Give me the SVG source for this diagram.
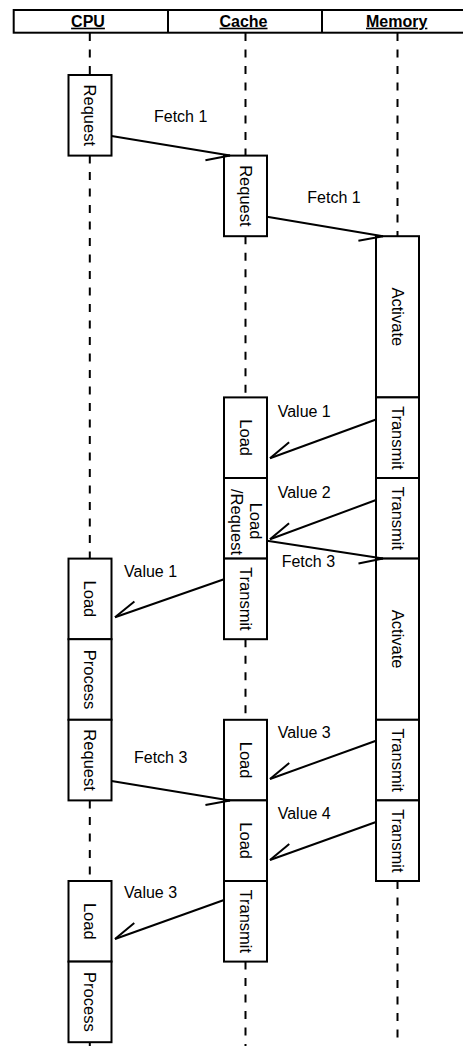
<svg xmlns="http://www.w3.org/2000/svg" width="463" height="1046" viewBox="0 0 463 1046">
<style>
.hdr{fill:#fff;stroke:#000;stroke-width:2}
.ht{font-family:"Liberation Sans",Arial,sans-serif;font-weight:bold;font-size:16px;text-anchor:middle;text-decoration:underline}
.life{stroke:#000;stroke-width:2;stroke-dasharray:8 8.5;fill:none}
.box{fill:#fff;stroke:#000;stroke-width:2}
.bt{font-family:"Liberation Sans",Arial,sans-serif;font-size:16.5px;text-anchor:middle}
.msg{stroke:#000;stroke-width:2;fill:none;marker-end:url(#half)}
.lbl{font-family:"Liberation Sans",Arial,sans-serif;font-size:16px}
</style>
<defs>
<marker id="half" markerUnits="userSpaceOnUse" refX="0" refY="0" markerWidth="30" markerHeight="30" orient="auto" overflow="visible">
<path d="M-23.5 8.5 L0 0" fill="none" stroke="#000" stroke-width="2"/>
</marker>
</defs>
<g id="header">
<rect class="hdr" x="13.7" y="10" width="462.3" height="22.7"/>
<line x1="168" y1="10" x2="168" y2="32.7" stroke="#000" stroke-width="2"/>
<line x1="322" y1="10" x2="322" y2="32.7" stroke="#000" stroke-width="2"/>
<text class="ht" x="88" y="26.7">CPU</text>
<text class="ht" x="243.5" y="26.7">Cache</text>
<text class="ht" x="396.7" y="26.7">Memory</text>
</g>
<g id="lifelines">
<path class="life" d="M89.8 33 V75 M89.8 155.6 V558.6 M89.8 800.4 V881 M89.8 1042.2 V1046"/>
<path class="life" d="M245.5 33 V155.6 M245.5 236.2 V397.4 M245.5 639.2 V719.8 M245.5 961.6 V1046"/>
<path class="life" d="M397.5 33 V236.2 M397.5 881 V1046"/>
</g>
<g id="cpu">
<g id="cpu-request1"><rect class="box" x="68.5" y="75" width="43" height="80.6"/><text class="bt" transform="translate(84,115.3) rotate(90)">Request</text></g>
<g id="cpu-load1"><rect class="box" x="68.5" y="558.6" width="43" height="80.6"/><text class="bt" transform="translate(84,598.9) rotate(90)">Load</text></g>
<g id="cpu-process1"><rect class="box" x="68.5" y="639.2" width="43" height="80.6"/><text class="bt" transform="translate(84,679.5) rotate(90)">Process</text></g>
<g id="cpu-request2"><rect class="box" x="68.5" y="719.8" width="43" height="80.6"/><text class="bt" transform="translate(84,760.1) rotate(90)">Request</text></g>
<g id="cpu-load2"><rect class="box" x="68.5" y="881" width="43" height="80.6"/><text class="bt" transform="translate(84,921.3) rotate(90)">Load</text></g>
<g id="cpu-process2"><rect class="box" x="68.5" y="961.6" width="43" height="80.6"/><text class="bt" transform="translate(84,1001.9) rotate(90)">Process</text></g>
</g>
<g id="cache">
<g id="cache-request"><rect class="box" x="224" y="155.6" width="43" height="80.6"/><text class="bt" transform="translate(239.7,195.9) rotate(90)">Request</text></g>
<g id="cache-load1"><rect class="box" x="224" y="397.4" width="43" height="80.6"/><text class="bt" transform="translate(239.7,437.7) rotate(90)">Load</text></g>
<g id="cache-loadrequest"><rect class="box" x="224" y="478" width="43" height="80.6"/><text class="bt" transform="translate(250,521) rotate(90)">Load</text><text class="bt" transform="translate(231,522) rotate(90)">/Request</text></g>
<g id="cache-transmit1"><rect class="box" x="224" y="558.6" width="43" height="80.6"/><text class="bt" transform="translate(239.7,598.9) rotate(90)">Transmit</text></g>
<g id="cache-load2"><rect class="box" x="224" y="719.8" width="43" height="80.6"/><text class="bt" transform="translate(239.7,760.1) rotate(90)">Load</text></g>
<g id="cache-load3"><rect class="box" x="224" y="800.4" width="43" height="80.6"/><text class="bt" transform="translate(239.7,840.7) rotate(90)">Load</text></g>
<g id="cache-transmit2"><rect class="box" x="224" y="881" width="43" height="80.6"/><text class="bt" transform="translate(239.7,921.3) rotate(90)">Transmit</text></g>
</g>
<g id="memory">
<g id="mem-activate1"><rect class="box" x="376" y="236.2" width="43" height="161.2"/><text class="bt" transform="translate(391.7,316.8) rotate(90)">Activate</text></g>
<g id="mem-transmit1"><rect class="box" x="376" y="397.4" width="43" height="80.6"/><text class="bt" transform="translate(391.7,437.7) rotate(90)">Transmit</text></g>
<g id="mem-transmit2"><rect class="box" x="376" y="478" width="43" height="80.6"/><text class="bt" transform="translate(391.7,518.3) rotate(90)">Transmit</text></g>
<g id="mem-activate2"><rect class="box" x="376" y="558.6" width="43" height="161.2"/><text class="bt" transform="translate(391.7,639.2) rotate(90)">Activate</text></g>
<g id="mem-transmit3"><rect class="box" x="376" y="719.8" width="43" height="80.6"/><text class="bt" transform="translate(391.7,760.1) rotate(90)">Transmit</text></g>
<g id="mem-transmit4"><rect class="box" x="376" y="800.4" width="43" height="80.6"/><text class="bt" transform="translate(391.7,840.7) rotate(90)">Transmit</text></g>
</g>
<g id="connectors">
<line class="msg" x1="111.5" y1="136" x2="230" y2="155.6"/>
<line class="msg" x1="267" y1="216.7" x2="383" y2="236.2"/>
<line class="msg" x1="376" y1="419.5" x2="270" y2="458.3"/>
<line class="msg" x1="376" y1="500" x2="270" y2="539.3"/>
<line class="msg" x1="267" y1="540.7" x2="383" y2="558.6"/>
<line class="msg" x1="224" y1="579.3" x2="115" y2="617.3"/>
<line class="msg" x1="111.5" y1="781" x2="230" y2="800.4"/>
<line class="msg" x1="376" y1="740.7" x2="270" y2="779"/>
<line class="msg" x1="376" y1="822" x2="270" y2="860"/>
<line class="msg" x1="224" y1="900" x2="115" y2="939"/>
</g>
<g id="labels">
<text class="lbl" x="154" y="121.7">Fetch 1</text>
<text class="lbl" x="307.3" y="202.7">Fetch 1</text>
<text class="lbl" x="277.7" y="416.7">Value 1</text>
<text class="lbl" x="277.7" y="498.3">Value 2</text>
<text class="lbl" x="281.7" y="566.7">Fetch 3</text>
<text class="lbl" x="124" y="576.7">Value 1</text>
<text class="lbl" x="134" y="763.3">Fetch 3</text>
<text class="lbl" x="277.7" y="737.7">Value 3</text>
<text class="lbl" x="277.7" y="819">Value 4</text>
<text class="lbl" x="124" y="898.3">Value 3</text>
</g>
</svg>
